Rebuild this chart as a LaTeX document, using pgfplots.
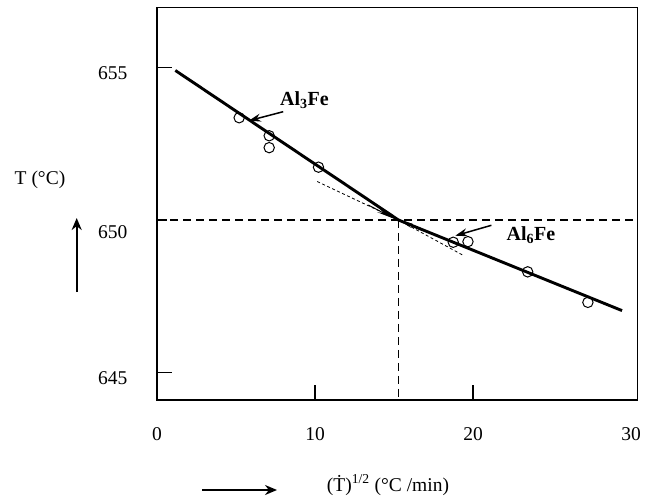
\documentclass[border=0pt]{standalone}
\usepackage{fontspec}
\setmainfont{Liberation Serif}
\usepackage{pgfplots}
\pgfplotsset{compat=1.18}
\usetikzlibrary{arrows.meta}

\begin{document}
\begin{tikzpicture}[x=1pt,y=1pt,font=\fontsize{19.5}{23}\selectfont]
\path (0,0) rectangle (647,497);
\begin{axis}[at={(157pt,97pt)},anchor=south west,
  width=480.5pt,height=392.7pt,scale only axis,
  xmin=0,xmax=30.41,ymin=644.1,ymax=656.97,
  axis line style={line width=1.3pt},
  xtick={10,20},ytick={645,655},
  extra x ticks={0,30},extra y ticks={650},
  extra x tick style={major tick length=0pt},
  extra y tick style={major tick length=10pt,yticklabel style={yshift=-6pt}},
  tick align=inside,xtick pos=bottom,ytick pos=left,
  major tick length=15pt,tick style={line width=1.1pt,black},
  xticklabel style={yshift=-24pt},
  yticklabel style={xshift=-26pt,yshift=-6pt},
  /pgf/number format/assume math mode=true,
  clip=false]
% reference lines at the transition point
\addplot[black,line width=1.3pt,dash pattern=on 8pt off 5pt] coordinates {(0,650) (30.41,650)};
\addplot[black,line width=1.3pt,dash pattern=on 8pt off 5pt] coordinates {(15.28,650) (15.28,644.1)};
% extrapolated branches
\addplot[black,line width=0.8pt,dash pattern=on 3pt off 2.5pt] coordinates {(10.14,651.26) (15.28,650) (19.45,648.82)};
% fitted lines
\addplot[black,line width=2.9pt] coordinates {(1.16,654.90) (15.28,650) (29.43,647.03)};
% measurements
\addplot[only marks,mark=o,mark size=5.2pt,mark options={line width=1pt,black}] coordinates {
 (5.20,653.35) (7.10,652.76) (7.10,652.37) (10.22,651.73)
 (18.75,649.27) (19.68,649.29) (23.46,648.30) (27.27,647.30)};
\end{axis}
% labels and arrows
\node[font=\fontsize{20}{24}\selectfont\bfseries] at (304.5,397) {Al\textsubscript{3}Fe};
\node[font=\fontsize{20}{24}\selectfont\bfseries] at (531,262) {Al\textsubscript{6}Fe};
\draw[line width=1.5pt,-{Stealth[length=12pt,width=8pt]}] (283.2,385.3) -- (248.8,376.3);
\draw[line width=1.5pt,-{Stealth[length=12pt,width=8pt]}] (491.4,271.7) -- (455.3,261.3);
\draw[line width=0.9pt,-{Stealth[length=20pt,width=4.5pt]}] (368.3,292) -- (396,277.5);
\draw[line width=0.9pt,-{Stealth[length=14pt,width=4.5pt]}] (421,267) -- (399,277);
\node at (40,317) {T (°C)};
\draw[line width=2.4pt,-{Stealth[length=12pt,width=10pt]}] (76.7,205) -- (76.7,279);
\node at (388,12) {(Ṫ)\textsuperscript{1/2} (°C /min)};
\draw[line width=2.4pt,-{Stealth[length=12pt,width=10pt]}] (202,7) -- (277,7);
\end{tikzpicture}
\end{document}
